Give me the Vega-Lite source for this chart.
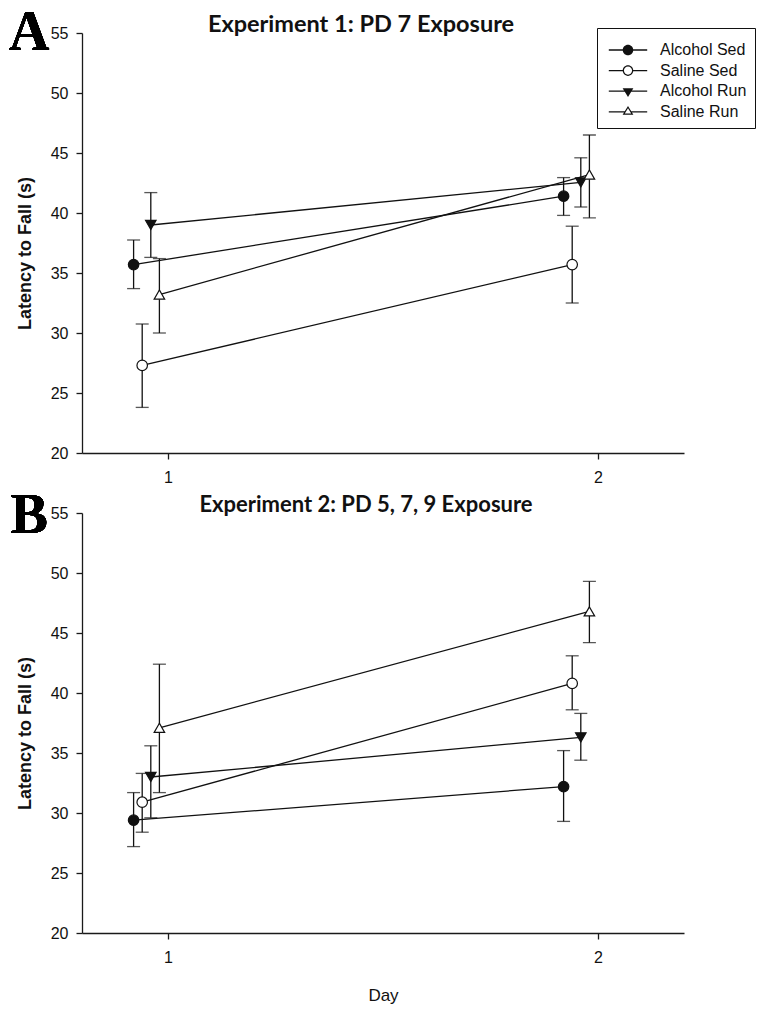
{
  "$schema": "https://vega.github.io/schema/vega-lite/v6.json",
  "padding": {"left": 8, "top": 4, "right": 5, "bottom": 5},
  "spacing": 3,
  "resolve": {"scale": {"shape": "independent", "fill": "independent"}},
  "vconcat": [
    {
      "width": 602,
      "height": 420,
      "title": {"text": "Experiment 1: PD 7 Exposure", "offset": -32, "dx": -22},
      "data": {"values": [
        {"group": "Alcohol Sed", "day": 0.92, "mean": 35.7, "lo": 33.7, "hi": 37.75},
        {"group": "Alcohol Sed", "day": 1.92, "mean": 41.4, "lo": 39.8, "hi": 42.95},
        {"group": "Saline Sed", "day": 0.94, "mean": 27.3, "lo": 23.8, "hi": 30.75},
        {"group": "Saline Sed", "day": 1.94, "mean": 35.7, "lo": 32.5, "hi": 38.9},
        {"group": "Alcohol Run", "day": 0.96, "mean": 39.0, "lo": 36.3, "hi": 41.7},
        {"group": "Alcohol Run", "day": 1.96, "mean": 42.55, "lo": 40.5, "hi": 44.6},
        {"group": "Saline Run", "day": 0.98, "mean": 33.2, "lo": 30.0, "hi": 36.2},
        {"group": "Saline Run", "day": 1.98, "mean": 43.2, "lo": 39.6, "hi": 46.5}
      ]},
      "resolve": {"scale": {"shape": "independent"}},
      "layer": [
        {
          "mark": {"type": "rule", "color": "#111", "strokeWidth": 1.3},
          "encoding": {
            "x": {"field": "day", "type": "quantitative", "scale": {"domain": [0.8, 2.2], "nice": false, "zero": false}, "axis": {"values": [1, 2], "format": "d", "title": null}},
            "y": {"field": "lo", "type": "quantitative", "scale": {"domain": [20, 55], "nice": false, "zero": false}, "axis": {"values": [20, 25, 30, 35, 40, 45, 50, 55], "title": "Latency to Fall (s)", "titleY": 220}},
            "y2": {"field": "hi"}
          }
        },
        {
          "mark": {"type": "tick", "orient": "horizontal", "size": 13, "thickness": 1.3, "color": "#111"},
          "encoding": {
            "x": {"field": "day", "type": "quantitative", "scale": {"domain": [0.8, 2.2], "nice": false, "zero": false}, "axis": {"values": [1, 2], "format": "d", "title": null}},
            "y": {"field": "lo", "type": "quantitative", "scale": {"domain": [20, 55], "nice": false, "zero": false}, "axis": {"values": [20, 25, 30, 35, 40, 45, 50, 55], "title": "Latency to Fall (s)", "titleY": 220}}
          }
        },
        {
          "mark": {"type": "tick", "orient": "horizontal", "size": 13, "thickness": 1.3, "color": "#111"},
          "encoding": {
            "x": {"field": "day", "type": "quantitative", "scale": {"domain": [0.8, 2.2], "nice": false, "zero": false}, "axis": {"values": [1, 2], "format": "d", "title": null}},
            "y": {"field": "hi", "type": "quantitative", "scale": {"domain": [20, 55], "nice": false, "zero": false}, "axis": {"values": [20, 25, 30, 35, 40, 45, 50, 55], "title": "Latency to Fall (s)", "titleY": 220}}
          }
        },
        {
          "mark": {"type": "line", "color": "#111", "strokeWidth": 1.3},
          "encoding": {
            "x": {"field": "day", "type": "quantitative", "scale": {"domain": [0.8, 2.2], "nice": false, "zero": false}, "axis": {"values": [1, 2], "format": "d", "title": null}},
            "y": {"field": "mean", "type": "quantitative", "scale": {"domain": [20, 55], "nice": false, "zero": false}, "axis": {"values": [20, 25, 30, 35, 40, 45, 50, 55], "title": "Latency to Fall (s)", "titleY": 220}},
            "detail": {"field": "group", "type": "nominal"}
          }
        },
        {
          "mark": {"type": "point", "size": 110, "stroke": "#111", "strokeWidth": 1.2, "opacity": 1, "fillOpacity": 1},
          "encoding": {
            "x": {"field": "day", "type": "quantitative", "scale": {"domain": [0.8, 2.2], "nice": false, "zero": false}, "axis": {"values": [1, 2], "format": "d", "title": null}},
            "y": {"field": "mean", "type": "quantitative", "scale": {"domain": [20, 55], "nice": false, "zero": false}, "axis": {"values": [20, 25, 30, 35, 40, 45, 50, 55], "title": "Latency to Fall (s)", "titleY": 220}},
            "shape": {"field": "group", "type": "nominal", "scale": {"domain": ["Alcohol Sed", "Saline Sed", "Alcohol Run", "Saline Run"], "range": ["circle", "circle", "triangle-down", "triangle-up"]}, "legend": null},
            "fill": {"field": "group", "type": "nominal", "scale": {"domain": ["Alcohol Sed", "Saline Sed", "Alcohol Run", "Saline Run"], "range": ["#111111", "#ffffff", "#111111", "#ffffff"]}, "legend": null}
          }
        },
        {
          "mark": {"type": "point", "filled": true, "color": "#111", "opacity": 0},
          "encoding": {
            "x": {"field": "day", "type": "quantitative", "scale": {"domain": [0.8, 2.2], "nice": false, "zero": false}, "axis": {"values": [1, 2], "format": "d", "title": null}},
            "y": {"field": "mean", "type": "quantitative", "scale": {"domain": [20, 55], "nice": false, "zero": false}, "axis": {"values": [20, 25, 30, 35, 40, 45, 50, 55], "title": "Latency to Fall (s)", "titleY": 220}},
            "shape": {
              "field": "group", "type": "nominal",
              "scale": {
                "domain": ["Alcohol Sed", "Saline Sed", "Alcohol Run", "Saline Run"],
                "range": [
                  "M-2.4,-0.08H2.4V0.08H-2.4Z M-0.66,0A0.66,0.66 0 1,1 0.66,0A0.66,0.66 0 1,1 -0.66,0Z",
                  "M-2.4,-0.08H-0.6V0.08H-2.4Z M0.6,-0.08H2.4V0.08H0.6Z M-0.66,0A0.66,0.66 0 1,1 0.66,0A0.66,0.66 0 1,1 -0.66,0Z M-0.51,0A0.51,0.51 0 1,0 0.51,0A0.51,0.51 0 1,0 -0.51,0Z",
                  "M-2.4,-0.08H2.4V0.08H-2.4Z M-0.67,-0.38L0.67,-0.38L0,0.71Z",
                  "M-2.4,-0.08H-0.36V0.08H-2.4Z M0.36,-0.08H2.4V0.08H0.36Z M0,-0.72L0.67,0.36L-0.67,0.36Z M0,-0.436L-0.4,0.21L0.4,0.21Z"
                ]
              },
              "legend": {
                "title": " ", "titleFontSize": 6, "titlePadding": 0,
                "orient": "none", "legendX": 515, "legendY": -5,
                "symbolOpacity": 1, "symbolSize": 256, "symbolFillColor": "#111", "symbolStrokeWidth": 0,
                "labelFont": "Liberation Sans", "labelFontSize": 16, "labelColor": "#111",
                "labelOffset": 24, "symbolOffset": 15, "rowPadding": 4.6, "padding": 8,
                "strokeColor": "#111", "fillColor": "#ffffff", "labelLimit": 300
              }
            }
          }
        },
        {
          "mark": {"type": "text", "text": "A", "font": "Liberation Serif", "fontWeight": "bold", "fontSize": 56, "baseline": "alphabetic", "align": "center", "color": "#000"},
          "encoding": {
            "x": {"datum": 0.677, "type": "quantitative"},
            "y": {"datum": 53.6, "type": "quantitative"}
          }
        }
      ]
    },
    {
      "width": 602,
      "height": 420,
      "title": {"text": "Experiment 2: PD 5, 7, 9 Exposure", "offset": -28.8, "dx": -17, "fontSize": 22},
      "data": {"values": [
        {"group": "Alcohol Sed", "day": 0.92, "mean": 29.4, "lo": 27.2, "hi": 31.7},
        {"group": "Alcohol Sed", "day": 1.92, "mean": 32.2, "lo": 29.3, "hi": 35.2},
        {"group": "Saline Sed", "day": 0.94, "mean": 30.9, "lo": 28.4, "hi": 33.3},
        {"group": "Saline Sed", "day": 1.94, "mean": 40.8, "lo": 38.6, "hi": 43.1},
        {"group": "Alcohol Run", "day": 0.96, "mean": 33.0, "lo": 29.6, "hi": 35.6},
        {"group": "Alcohol Run", "day": 1.96, "mean": 36.3, "lo": 34.4, "hi": 38.3},
        {"group": "Saline Run", "day": 0.98, "mean": 37.1, "lo": 31.7, "hi": 42.4},
        {"group": "Saline Run", "day": 1.98, "mean": 46.8, "lo": 44.2, "hi": 49.3}
      ]},
      "layer": [
        {
          "mark": {"type": "rule", "color": "#111", "strokeWidth": 1.3},
          "encoding": {
            "x": {"field": "day", "type": "quantitative", "scale": {"domain": [0.8, 2.2], "nice": false, "zero": false}, "axis": {"values": [1, 2], "format": "d", "title": "Day"}},
            "y": {"field": "lo", "type": "quantitative", "scale": {"domain": [20, 55], "nice": false, "zero": false}, "axis": {"values": [20, 25, 30, 35, 40, 45, 50, 55], "title": "Latency to Fall (s)", "titleY": 220}},
            "y2": {"field": "hi"}
          }
        },
        {
          "mark": {"type": "tick", "orient": "horizontal", "size": 13, "thickness": 1.3, "color": "#111"},
          "encoding": {
            "x": {"field": "day", "type": "quantitative", "scale": {"domain": [0.8, 2.2], "nice": false, "zero": false}, "axis": {"values": [1, 2], "format": "d", "title": "Day"}},
            "y": {"field": "lo", "type": "quantitative", "scale": {"domain": [20, 55], "nice": false, "zero": false}, "axis": {"values": [20, 25, 30, 35, 40, 45, 50, 55], "title": "Latency to Fall (s)", "titleY": 220}}
          }
        },
        {
          "mark": {"type": "tick", "orient": "horizontal", "size": 13, "thickness": 1.3, "color": "#111"},
          "encoding": {
            "x": {"field": "day", "type": "quantitative", "scale": {"domain": [0.8, 2.2], "nice": false, "zero": false}, "axis": {"values": [1, 2], "format": "d", "title": "Day"}},
            "y": {"field": "hi", "type": "quantitative", "scale": {"domain": [20, 55], "nice": false, "zero": false}, "axis": {"values": [20, 25, 30, 35, 40, 45, 50, 55], "title": "Latency to Fall (s)", "titleY": 220}}
          }
        },
        {
          "mark": {"type": "line", "color": "#111", "strokeWidth": 1.3},
          "encoding": {
            "x": {"field": "day", "type": "quantitative", "scale": {"domain": [0.8, 2.2], "nice": false, "zero": false}, "axis": {"values": [1, 2], "format": "d", "title": "Day"}},
            "y": {"field": "mean", "type": "quantitative", "scale": {"domain": [20, 55], "nice": false, "zero": false}, "axis": {"values": [20, 25, 30, 35, 40, 45, 50, 55], "title": "Latency to Fall (s)", "titleY": 220}},
            "detail": {"field": "group", "type": "nominal"}
          }
        },
        {
          "mark": {"type": "point", "size": 110, "stroke": "#111", "strokeWidth": 1.2, "opacity": 1, "fillOpacity": 1},
          "encoding": {
            "x": {"field": "day", "type": "quantitative", "scale": {"domain": [0.8, 2.2], "nice": false, "zero": false}, "axis": {"values": [1, 2], "format": "d", "title": "Day"}},
            "y": {"field": "mean", "type": "quantitative", "scale": {"domain": [20, 55], "nice": false, "zero": false}, "axis": {"values": [20, 25, 30, 35, 40, 45, 50, 55], "title": "Latency to Fall (s)", "titleY": 220}},
            "shape": {"field": "group", "type": "nominal", "scale": {"domain": ["Alcohol Sed", "Saline Sed", "Alcohol Run", "Saline Run"], "range": ["circle", "circle", "triangle-down", "triangle-up"]}, "legend": null},
            "fill": {"field": "group", "type": "nominal", "scale": {"domain": ["Alcohol Sed", "Saline Sed", "Alcohol Run", "Saline Run"], "range": ["#111111", "#ffffff", "#111111", "#ffffff"]}, "legend": null}
          }
        },
        {
          "mark": {"type": "text", "text": "B", "font": "Liberation Serif", "fontWeight": "bold", "fontSize": 56, "baseline": "alphabetic", "align": "center", "color": "#000"},
          "encoding": {
            "x": {"datum": 0.677, "type": "quantitative"},
            "y": {"datum": 53.33, "type": "quantitative"}
          }
        }
      ]
    }
  ],
  "config": {
    "view": {"stroke": null},
    "axis": {
      "domainColor": "#1a1a1a", "domainWidth": 1.3, "tickColor": "#1a1a1a", "tickWidth": 1.3, "tickSize": 6,
      "labelFont": "Liberation Sans", "labelFontSize": 16, "labelColor": "#111", "grid": false,
      "titleFont": "Liberation Sans", "titleColor": "#111"
    },
    "axisY": {"labelPadding": 8, "titleFontSize": 18, "titleFontWeight": "bold", "titlePadding": 16},
    "axisX": {"labelPadding": 10, "titleFontSize": 17, "titleFontWeight": "normal", "titlePadding": 22},
    "title": {"font": "Lato", "fontSize": 23.5, "fontWeight": "bold", "color": "#111", "anchor": "middle", "frame": "group", "baseline": "alphabetic"}
  }
}
